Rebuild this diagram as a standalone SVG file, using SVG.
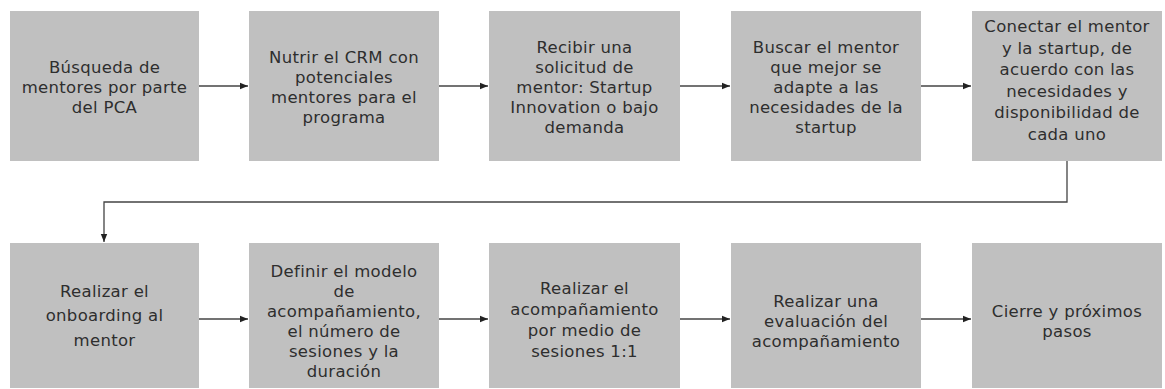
<svg xmlns="http://www.w3.org/2000/svg" width="1165" height="389" viewBox="0 0 1165 389">
<defs>
<style>
.box{fill:#c0c0c0;}
.t{font-family:"DejaVu Sans","Noto Sans",sans-serif;font-size:16.5px;letter-spacing:0.3px;fill:#2e2e2e;text-anchor:middle;}
.c{fill:none;stroke:#444;stroke-width:1.3;}
</style>
<marker id="ah" viewBox="0 0 10 10" refX="10" refY="5" markerWidth="8" markerHeight="8" markerUnits="userSpaceOnUse" orient="auto">
<path d="M0,1 L10,5 L0,9 Z" fill="#222"/>
</marker>
</defs>
<rect width="1165" height="389" fill="#fff"/>
<g id="connectors">
<line class="c" x1="199" y1="86" x2="248" y2="86" marker-end="url(#ah)"/>
<line class="c" x1="439" y1="86" x2="488" y2="86" marker-end="url(#ah)"/>
<line class="c" x1="680" y1="86" x2="730" y2="86" marker-end="url(#ah)"/>
<line class="c" x1="921" y1="86" x2="971" y2="86" marker-end="url(#ah)"/>
<polyline class="c" points="1067,161 1067,202 104,202 104,242" marker-end="url(#ah)"/>
<line class="c" x1="199" y1="319" x2="248" y2="319" marker-end="url(#ah)"/>
<line class="c" x1="439" y1="319" x2="488" y2="319" marker-end="url(#ah)"/>
<line class="c" x1="680" y1="319" x2="730" y2="319" marker-end="url(#ah)"/>
<line class="c" x1="921" y1="319" x2="971" y2="319" marker-end="url(#ah)"/>
</g>
<g id="n1"><rect class="box" x="10" y="11" width="189" height="150"/>
<text class="t" x="104.5" y="73">Búsqueda de</text><text class="t" x="104.5" y="93">mentores por parte</text><text class="t" x="104.5" y="113">del PCA</text></g>
<g id="n2"><rect class="box" x="249" y="11" width="190" height="150"/>
<text class="t" x="344" y="63">Nutrir el CRM con</text><text class="t" x="344" y="83">potenciales</text><text class="t" x="344" y="103">mentores para el</text><text class="t" x="344" y="123">programa</text></g>
<g id="n3"><rect class="box" x="489" y="11" width="191" height="150"/>
<text class="t" x="584.5" y="53">Recibir una</text><text class="t" x="584.5" y="73">solicitud de</text><text class="t" x="584.5" y="93">mentor: Startup</text><text class="t" x="584.5" y="113">Innovation o bajo</text><text class="t" x="584.5" y="133">demanda</text></g>
<g id="n4"><rect class="box" x="731" y="11" width="190" height="150"/>
<text class="t" x="826" y="53">Buscar el mentor</text><text class="t" x="826" y="73">que mejor se</text><text class="t" x="826" y="93">adapte a las</text><text class="t" x="826" y="113">necesidades de la</text><text class="t" x="826" y="133">startup</text></g>
<g id="n5"><rect class="box" x="972" y="11" width="190" height="150"/>
<text class="t" x="1067" y="32">Conectar el mentor</text><text class="t" x="1067" y="53.5">y la startup, de</text><text class="t" x="1067" y="75">acuerdo con las</text><text class="t" x="1067" y="96.5">necesidades y</text><text class="t" x="1067" y="118">disponibilidad de</text><text class="t" x="1067" y="139.5">cada uno</text></g>
<g id="n6"><rect class="box" x="10" y="243" width="189" height="145"/>
<text class="t" x="104.5" y="297">Realizar el</text><text class="t" x="104.5" y="321">onboarding al</text><text class="t" x="104.5" y="346">mentor</text></g>
<g id="n7"><rect class="box" x="249" y="243" width="190" height="145"/>
<text class="t" x="344" y="277">Definir el modelo</text><text class="t" x="344" y="297">de</text><text class="t" x="344" y="317">acompañamiento,</text><text class="t" x="344" y="337">el número de</text><text class="t" x="344" y="357">sesiones y la</text><text class="t" x="344" y="377">duración</text></g>
<g id="n8"><rect class="box" x="489" y="243" width="191" height="145"/>
<text class="t" x="584.5" y="294">Realizar el</text><text class="t" x="584.5" y="315">acompañamiento</text><text class="t" x="584.5" y="336">por medio de</text><text class="t" x="584.5" y="357">sesiones 1:1</text></g>
<g id="n9"><rect class="box" x="731" y="243" width="190" height="145"/>
<text class="t" x="826" y="307">Realizar una</text><text class="t" x="826" y="327">evaluación del</text><text class="t" x="826" y="347">acompañamiento</text></g>
<g id="n10"><rect class="box" x="972" y="243" width="190" height="145"/>
<text class="t" x="1067" y="317">Cierre y próximos</text><text class="t" x="1067" y="337">pasos</text></g>
</svg>
